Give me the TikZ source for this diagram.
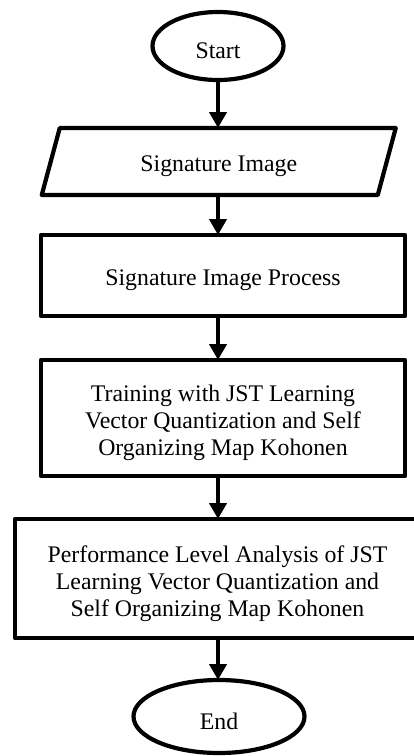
\documentclass[tikz,border=0pt]{standalone}
\usepackage{fontspec}
\setmainfont{Liberation Serif}
\usetikzlibrary{shapes.geometric,arrows.meta}
\begin{document}
\begin{tikzpicture}[x=1pt,y=-1pt,
  every node/.style={inner sep=0pt, outer sep=0pt},
  caption/.style={font=\fontsize{23.8}{27}\selectfont, align=center, yshift=-5pt},
  outline/.style={draw=black, line width=4.2pt, line join=round},
  terminal/.style={outline, ellipse},
  stepbox/.style={outline, rectangle},
  flowarrow/.style={line width=4.6pt, -{Triangle[length=16pt,width=17pt]}}]
\useasboundingbox (0,0) rectangle (414,756);
\clip (0,0) rectangle (414,756);
\fill[white] (0,0) rectangle (414,756);

% terminals
\node[terminal, minimum width=131pt, minimum height=68pt] (start) at (218,46) {};
\node[terminal, minimum width=171pt, minimum height=73pt] (end) at (219,716.5) {};

% input (parallelogram)
\node[minimum width=336pt, minimum height=67pt] (img) at (218.75,161.5) {};
\draw[outline] ([xshift=9pt]img.north west) -- ([xshift=9pt]img.north east)
  -- ([xshift=-9pt]img.south east) -- ([xshift=-9pt]img.south west) -- cycle;

% process steps
\node[stepbox, minimum width=364pt, minimum height=81pt] (proc) at (223,275.5) {};
\node[stepbox, minimum width=364pt, minimum height=116pt] (train) at (223,418) {};
\node[stepbox, minimum width=405pt, minimum height=119pt] (perf) at (217.5,578.5) {};

% texts
\node[caption] (starttxt) at (start.center) {Start};
\node[caption] (endtxt) at (end.center) {End};
\node[caption] (imgtxt) at (img.center) {Signature Image};
\node[caption] (proctxt) at (proc.center) {Signature Image Process};
\node[caption] (traintxt) at (train.center)
  {Training with JST Learning\\Vector Quantization and Self\\Organizing Map Kohonen};
\node[caption] (perftxt) at (perf.center)
  {Performance Level Analysis of JST\\Learning Vector Quantization and\\Self Organizing Map Kohonen};

% connectors
\draw[flowarrow] (start.south) -- (start.south |- img.north);
\draw[flowarrow] (img.south -| start.south) -- (proc.north -| start.south);
\draw[flowarrow] (proc.south -| start.south) -- (train.north -| start.south);
\draw[flowarrow] (train.south -| start.south) -- (perf.north -| start.south);
\draw[flowarrow] (perf.south -| start.south) -- (end.north -| start.south);
\end{tikzpicture}
\end{document}
